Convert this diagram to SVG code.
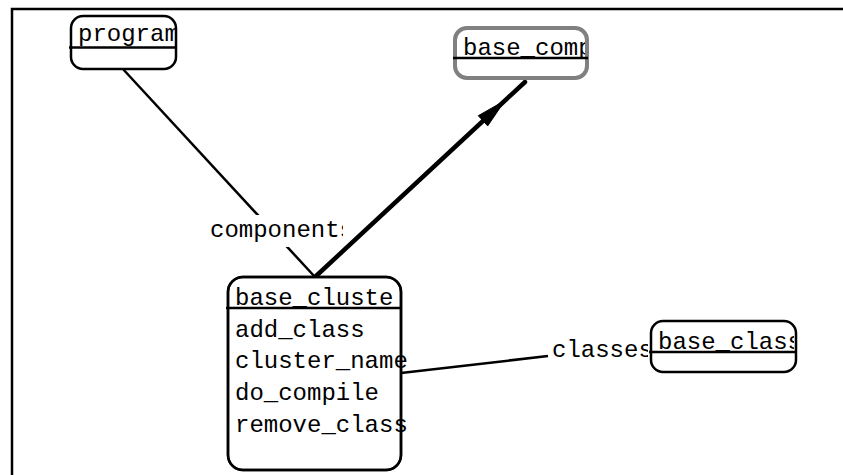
<svg xmlns="http://www.w3.org/2000/svg" width="843" height="475" viewBox="0 0 843 475">
<style>
  text { font-family: "Liberation Mono", "Courier New", monospace; font-size: 24px; fill: #000; }
  .box { fill: #fff; stroke: #000; stroke-width: 2.5; }
  .sel { fill: #fff; stroke: #808080; stroke-width: 4; }
  .sep { stroke: #000; stroke-width: 2.5; }
  .edge { stroke: #000; stroke-width: 2.5; fill: none; }
  .thick { stroke: #000; stroke-width: 4.5; fill: none; }
</style>
<defs>
  <clipPath id="c-program"><rect x="72" y="17" width="103" height="31"/></clipPath>
  <clipPath id="c-comp"><rect x="457" y="30" width="128" height="28"/></clipPath>
  <clipPath id="c-class"><rect x="652" y="322" width="142" height="30"/></clipPath>
  <clipPath id="c-cluster"><rect x="229" y="278" width="171" height="30"/></clipPath>
  <clipPath id="c-components"><rect x="206" y="212" width="137" height="36"/></clipPath>
  <clipPath id="c-classes"><rect x="549" y="335" width="99" height="30"/></clipPath>
</defs>
<rect x="0" y="0" width="843" height="475" fill="#fff"/>
<path d="M12 475 V9 H843" fill="none" stroke="#000" stroke-width="2.5"/>

<g id="connectors">
  <line class="edge" x1="122" y1="68" x2="315" y2="277"/>
  <line class="edge" x1="401" y1="373" x2="548" y2="356"/>
  <line class="thick" x1="315" y1="277" x2="525" y2="82" stroke-linecap="round"/>
  <polygon points="505,100.5 487.7,125.9 478.3,115.7" fill="#000" stroke="#000" stroke-width="1"/>
  <g id="label-components">
    <rect x="206" y="215" width="137" height="32" fill="#fff"/>
    <text x="210" y="237" clip-path="url(#c-components)">components</text>
  </g>
  <g id="label-classes">
    <text x="552" y="357" clip-path="url(#c-classes)">classes</text>
  </g>
</g>

<g id="node-program">
  <rect class="box" x="71" y="16" width="105" height="53" rx="12"/>
  <text x="78" y="41" clip-path="url(#c-program)">program</text>
  <line class="sep" x1="69" y1="47.5" x2="176" y2="47.5"/>
</g>

<g id="node-base_comp">
  <rect class="sel" x="455" y="28" width="132" height="50" rx="12"/>
  <text x="463" y="55" clip-path="url(#c-comp)">base_comp</text>
  <line class="sep" x1="453" y1="58" x2="588" y2="58"/>
</g>

<g id="node-base_class">
  <rect class="box" x="651" y="321" width="145" height="51" rx="12"/>
  <text x="658" y="349" clip-path="url(#c-class)">base_class</text>
  <line class="sep" x1="649" y1="352" x2="796" y2="352"/>
</g>

<g id="node-base_cluster">
  <rect class="box" x="228" y="277" width="173" height="193" rx="15"/>
  <text x="235" y="305" clip-path="url(#c-cluster)">base_cluste</text>
  <line class="sep" x1="226" y1="308" x2="401" y2="308"/>
  <text x="235" y="337">add_class</text>
  <text x="235" y="368">cluster_name</text>
  <text x="235" y="400">do_compile</text>
  <text x="235" y="432">remove_class</text>
  <rect x="228" y="277" width="173" height="193" rx="15" fill="none" stroke="#000" stroke-width="2.5"/>
</g>
</svg>
